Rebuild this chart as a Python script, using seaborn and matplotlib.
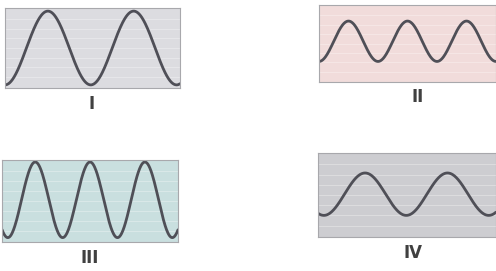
import numpy as np
import pandas as pd
import matplotlib
matplotlib.use("Agg")
import matplotlib.pyplot as plt
import seaborn as sns

# waveform settings (one entry per panel)
labels = ["I", "II", "III", "IV"]
cycles = [2.04, 3.0, 3.21, 2.16]      # number of cycles visible in the window
phase = [0.0, 0.0, 0.033, 0.033]      # x of first trough (fraction of width)
amplitude = [0.95, 0.54, 0.95, 0.52]  # half peak-to-peak, screen = [-1, 1]
offset = [0.0, 0.06, 0.03, 0.02]
face_colors = ["#dcdce0", "#f1dcdb", "#c9dfdf", "#cdcdd1"]

# panel placement in pixels: left, top, right, bottom
boxes = [(5, 8, 180, 88), (319, 5, 496, 82), (2, 160, 178, 242), (318, 153, 496, 237)]
label_pos = [(92, 104), (418, 97), (90, 258), (413, 253)]

W, H = 496, 271
sns.set_style("white")
fig = plt.figure(figsize=(W / 100, H / 100), dpi=100)

for i in range(4):
    l, t, r, b = boxes[i]
    ax = fig.add_axes([l / W, (H - b) / H, (r - l) / W, (b - t) / H])
    x = np.linspace(0, 1, 400)
    y = offset[i] - amplitude[i] * np.cos(2 * np.pi * cycles[i] * (x - phase[i]))
    df = pd.DataFrame({"x": x, "y": y})
    ax.set_facecolor(face_colors[i])
    # faint screen graticule
    for gy in np.linspace(-1, 1, 9)[1:-1]:
        ax.axhline(gy, color="white", lw=0.8, alpha=0.3)
    sns.lineplot(data=df, x="x", y="y", ax=ax, color="#4f4f57", lw=2.0)
    ax.set_xlim(0, 1)
    ax.set_ylim(-1.03, 1.03)
    ax.set_xticks([])
    ax.set_yticks([])
    ax.set_xlabel("")
    ax.set_ylabel("")
    for s in ax.spines.values():
        s.set_color("#a8a8ac")
        s.set_linewidth(0.8)

    lx, ly = label_pos[i]
    fig.text(lx / W, 1 - ly / H, labels[i], ha="center", va="center",
             fontsize=12, color="#404040", family="DejaVu Sans", fontweight="bold")

fig.savefig("out.png", dpi=100, facecolor="white")
